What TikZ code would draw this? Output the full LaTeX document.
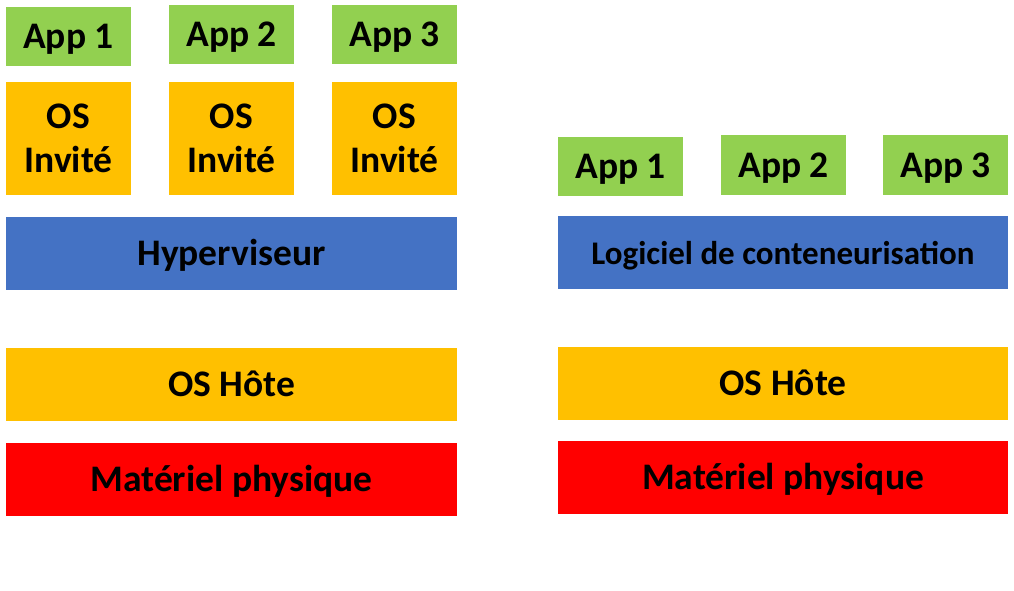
\documentclass[tikz,border=0pt]{standalone}
\usepackage{fontspec}
\setmainfont{Carlito}
\definecolor{appgreen}{RGB}{146,208,80}
\definecolor{osorange}{RGB}{255,192,0}
\definecolor{hypblue}{RGB}{68,114,196}
\definecolor{hwred}{RGB}{255,0,0}

\begin{document}
\begin{tikzpicture}[x=1pt,y=-1pt,
		layer/.style={rectangle,inner sep=0pt,text=black,align=center,
			font=\fontsize{37.5}{44}\selectfont\bfseries},
		oneline/.style={layer,text height=29pt,text depth=5pt},
		appbox/.style={oneline,fill=appgreen,minimum width=125pt,minimum height=59pt},
		guestbox/.style={layer,fill=osorange,minimum width=125pt,minimum height=113pt},
		wide/.style={oneline,minimum width=451pt,minimum height=73pt}]
		\useasboundingbox (0,0) rectangle (1014,591);
		% machines virtuelles
		\coordinate (vm_app1) at (68.5,36.5);
		\coordinate (vm_app2) at (231.5,35);
		\coordinate (vm_app3) at (394.5,35);
		\coordinate (vm_os1) at (68.5,138.5);
		\coordinate (vm_os2) at (231.5,138.5);
		\coordinate (vm_os3) at (394.5,138.5);
		\coordinate (vm_hyp) at (231.5,253.5);
		\coordinate (vm_host) at (231.5,384.5);
		\coordinate (vm_hw) at (231.5,479.5);
		% conteneurs
		\coordinate (ct_app1) at (620.5,166.5);
		\coordinate (ct_app2) at (783.5,165);
		\coordinate (ct_app3) at (945.5,165);
		\coordinate (ct_eng) at (783,252.5);
		\coordinate (ct_host) at (783,383);
		\coordinate (ct_hw) at (783,477);

		\node[appbox] (VmAppA) at (vm_app1) {App 1};
		\node[appbox] (VmAppB) at (vm_app2) {App 2};
		\node[appbox] (VmAppC) at (vm_app3) {App 3};
		\node[guestbox] (VmOsA) at (vm_os1) {OS\\Invité};
		\node[guestbox] (VmOsB) at (vm_os2) {OS\\Invité};
		\node[guestbox] (VmOsC) at (vm_os3) {OS\\Invité};
		\node[wide,fill=hypblue] (VmHyp) at (vm_hyp) {Hyperviseur};
		\node[wide,fill=osorange] (VmHost) at (vm_host) {OS Hôte};
		\node[wide,fill=hwred] (VmHw) at (vm_hw) {Matériel physique};

		\node[appbox] (CtAppA) at (ct_app1) {App 1};
		\node[appbox] (CtAppB) at (ct_app2) {App 2};
		\node[appbox] (CtAppC) at (ct_app3) {App 3};
		\node[wide,fill=hypblue,minimum width=450pt,font=\fontsize{33}{36}\selectfont\bfseries] (CtEng) at (ct_eng) {Logiciel de conteneurisation};
		\node[wide,fill=osorange,minimum width=450pt] (CtHost) at (ct_host) {OS Hôte};
		\node[wide,fill=hwred,minimum width=450pt] (CtHw) at (ct_hw) {Matériel physique};
	\end{tikzpicture}
\end{document}
